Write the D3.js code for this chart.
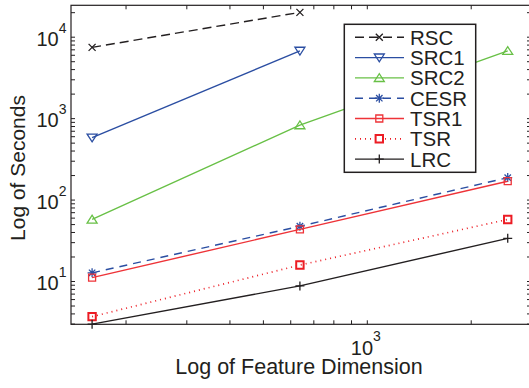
<!DOCTYPE html>
<html>
<head>
<meta charset="utf-8">
<script src="https://cdn.jsdelivr.net/npm/d3@7"></script>
<style>
  body { margin: 0; background: #fff; }
  svg text { font-family: 'Liberation Sans', Arial, sans-serif; fill: #231f20; }
  .axis path.domain { display: none; }
  .axis line { stroke: #231f20; stroke-width: 1; }
</style>
</head>
<body>
<div id="chart"></div>
<script>
// feature dimensions (x) and seconds per method (y)
var dims = [160, 640, 2560]
var rsc = [7400, 19900]
var src1 = [575, 6700]
var src2 = [57, 820, 6700]
var cesr = [12.6, 47, 186]
var tsr1 = [11, 43, 168]
var tsr = [3.65, 15.7, 57]
var lrc = [2.95, 8.7, 33.4]

var seriesNames = ['RSC', 'SRC1', 'SRC2', 'CESR', 'TSR1', 'TSR', 'LRC']
var seriesValues = [rsc, src1, src2, cesr, tsr1, tsr, lrc]

var xMinorTicks = [200, 300, 400, 500, 600, 700, 800, 900, 1000, 2000]
var xLabelTicks = [1000]
var yLabelTicks = [10, 100, 1000, 10000]

var styles = {
  RSC: { color: '#231f20', dash: '9,5', marker: 'x' },
  SRC1: { color: '#2b4ea2', dash: null, marker: 'v' },
  SRC2: { color: '#68c046', dash: null, marker: '^' },
  CESR: { color: '#2b4ea2', dash: '8,6', marker: '*' },
  TSR1: { color: '#ee3338', dash: null, marker: 's' },
  TSR: { color: '#ec1c24', dash: '1,4', marker: 'S' },
  LRC: { color: '#231f20', dash: null, marker: '+' }
}

var margin = { top: 5.3, left: 71, right: -2, bottom: 63.7 }
var width = 529 - margin.left - margin.right
var height = 388 - margin.top - margin.bottom

var svg = d3
  .select('#chart')
  .append('svg')
  .attr('width', 529)
  .attr('height', 388)
  .append('g')
  .attr('transform', `translate(${margin.left},${margin.top})`)

var xPositionScale = d3.scaleLog().domain([139, 2990]).range([0, width])
var yPositionScale = d3.scaleLog().domain([2.94, 24300]).range([height, 0])

var yMinorTicks = []
for (var p = 0; p <= 4; p++) {
  for (var m = 1; m <= 9; m++) {
    var v = m * Math.pow(10, p)
    if (v >= 2.94 && v <= 24300) yMinorTicks.push(v)
  }
}

// tick marks pointing inward on all four sides
svg.append('g').attr('class', 'axis')
  .attr('transform', `translate(0,${height})`)
  .call(d3.axisBottom(xPositionScale).tickValues(xMinorTicks).tickSize(-4).tickFormat(''))
svg.append('g').attr('class', 'axis')
  .call(d3.axisTop(xPositionScale).tickValues(xMinorTicks).tickSize(-4).tickFormat(''))
svg.append('g').attr('class', 'axis')
  .call(d3.axisLeft(yPositionScale).tickValues(yMinorTicks).tickSize(-4).tickFormat(''))
svg.append('g').attr('class', 'axis')
  .attr('transform', `translate(${width},0)`)
  .call(d3.axisRight(yPositionScale).tickValues(yMinorTicks).tickSize(-4).tickFormat(''))

svg.append('rect')
  .attr('x', 0).attr('y', 0)
  .attr('width', width).attr('height', height)
  .attr('fill', 'none')
  .attr('stroke', '#231f20')
  .attr('stroke-width', 1.2)

// tick labels as 10^n
var yLabels = svg.selectAll('.y-label')
  .data(yLabelTicks)
  .enter()
  .append('text')
  .attr('class', 'y-label')
  .attr('x', -4.5)
  .attr('y', d => yPositionScale(d) + 9.3)
  .attr('text-anchor', 'end')
  .attr('font-size', 20)
yLabels.append('tspan').text('10')
yLabels.append('tspan').attr('dy', -13).attr('font-size', 14).text(d => Math.round(Math.log10(d)))

var xLabels = svg.selectAll('.x-label')
  .data(xLabelTicks)
  .enter()
  .append('text')
  .attr('class', 'x-label')
  .attr('x', d => xPositionScale(d) - 1)
  .attr('y', height + 31)
  .attr('text-anchor', 'middle')
  .attr('font-size', 20)
xLabels.append('tspan').text('10')
xLabels.append('tspan').attr('dy', -14).attr('font-size', 14).text(d => Math.round(Math.log10(d)))

svg.append('text')
  .attr('x', width / 2 - 2)
  .attr('y', 374.5 - margin.top)
  .attr('text-anchor', 'middle')
  .attr('font-size', 21.5)
  .text('Log of Feature Dimension')

svg.append('text')
  .attr('transform', `translate(${25 - margin.left},${168 - margin.top}) rotate(-90)`)
  .attr('text-anchor', 'middle')
  .attr('font-size', 21)
  .text('Log of Seconds')

function markerPath(type) {
  switch (type) {
    case 'x': return 'M-3.5,-3.5L3.5,3.5M-3.5,3.5L3.5,-3.5'
    case 'v': return 'M-5,-3.6L5,-3.6L0,4.2Z'
    case '^': return 'M-5,3.6L5,3.6L0,-4.2Z'
    case '*': return 'M-4.5,0L4.5,0M0,-4.5L0,4.5M-3.2,-3.2L3.2,3.2M-3.2,3.2L3.2,-3.2'
    case 's': return 'M-3.5,-3.5L3.5,-3.5L3.5,3.5L-3.5,3.5Z'
    case 'S': return 'M-3.7,-3.7L3.7,-3.7L3.7,3.7L-3.7,3.7Z'
    case '+': return 'M-4.5,0L4.5,0M0,-4.5L0,4.5'
  }
}

var line = d3.line()
  .x(d => xPositionScale(d.x))
  .y(d => yPositionScale(d.y))

seriesNames.forEach(function(name, i) {
  var st = styles[name]
  var points = seriesValues[i].map((y, j) => ({ x: dims[j], y: y }))
  var g = svg.append('g').attr('class', 'series')

  g.append('path')
    .datum(points)
    .attr('d', line)
    .attr('fill', 'none')
    .attr('stroke', st.color)
    .attr('stroke-width', st.marker === 'S' ? 1.7 : 1.4)
    .attr('stroke-dasharray', st.dash)

  g.selectAll('.marker')
    .data(points)
    .enter()
    .append('path')
    .attr('class', 'marker')
    .attr('transform', d => `translate(${xPositionScale(d.x)},${yPositionScale(d.y)})`)
    .attr('d', markerPath(st.marker))
    .attr('fill', 'none')
    .attr('stroke', st.color)
    .attr('stroke-width', st.marker === 'S' ? 2 : 1.3)
})

// legend
var legend = svg.append('g')
  .attr('transform', `translate(${344.3 - margin.left},${24.3 - margin.top})`)

legend.append('rect')
  .attr('width', 131.4)
  .attr('height', 148)
  .attr('fill', '#fff')
  .attr('stroke', '#231f20')
  .attr('stroke-width', 1.5)

var rows = legend.selectAll('.legend-row')
  .data(seriesNames)
  .enter()
  .append('g')
  .attr('class', 'legend-row')
  .attr('transform', (d, i) => `translate(0,${13 + i * 20.3})`)

rows.append('line')
  .attr('x1', 10.7).attr('x2', 59.7)
  .attr('stroke', d => styles[d].color)
  .attr('stroke-width', d => styles[d].marker === 'S' ? 1.7 : 1.4)
  .attr('stroke-dasharray', d => styles[d].dash)

rows.append('path')
  .attr('transform', 'translate(35,0)')
  .attr('d', d => markerPath(styles[d].marker))
  .attr('fill', d => (styles[d].dash ? '#fff' : 'none'))
  .attr('stroke', d => styles[d].color)
  .attr('stroke-width', d => styles[d].marker === 'S' ? 2 : 1.3)

rows.append('text')
  .attr('x', 65.7)
  .attr('y', 7.4)
  .attr('font-size', 20.5)
  .text(d => d)
</script>
</body>
</html>
